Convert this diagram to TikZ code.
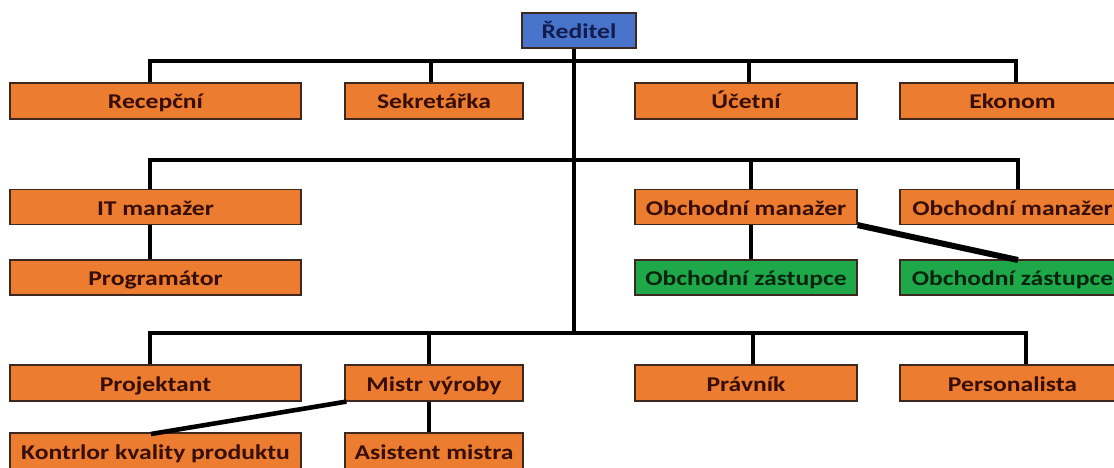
\documentclass[tikz,border=0pt]{standalone}
\usepackage{fontspec}
\setmainfont{Carlito}[FakeStretch=1.22]
\definecolor{boxorange}{RGB}{236,124,48}
\definecolor{boxgreen}{RGB}{30,168,74}
\definecolor{boxblue}{RGB}{72,116,204}
\definecolor{txtbrown}{RGB}{55,14,6}
\definecolor{txtgreen}{RGB}{8,36,14}
\definecolor{txtblue}{RGB}{20,28,76}
\definecolor{edge}{RGB}{60,40,30}
\tikzset{
  obox/.style={draw=edge, line width=1.2pt, fill=boxorange, text=txtbrown, inner sep=0pt,
    text height=20pt, text depth=4pt,
    font=\fontsize{21}{24}\selectfont\bfseries, anchor=center},
  gbox/.style={obox, fill=boxgreen, text=txtgreen},
  bbox/.style={obox, fill=boxblue, text=txtblue},
  conn/.style={line width=4.6pt, black},
}
\begin{document}
\begin{tikzpicture}[x=1pt,y=-1pt]
\useasboundingbox (0,0) rectangle (1114,468);
\clip (0,0) rectangle (1114,468);
% top
\node[bbox, minimum width=114pt, minimum height=35pt] (dir) at (579,30.5) {Ředitel};
% row 1
\node[obox, minimum width=291pt, minimum height=36pt] (rec) at (155.5,101) {Recepční};
\node[obox, minimum width=178pt, minimum height=36pt] (sek) at (434,101) {Sekretářka};
\node[obox, minimum width=222pt, minimum height=36pt] (uce) at (746,101) {Účetní};
\node[obox, minimum width=225pt, minimum height=36pt] (eko) at (1012.5,101) {Ekonom};
% row 2
\node[obox, minimum width=291pt, minimum height=35pt] (itm) at (155.5,207) {IT manažer};
\node[obox, minimum width=222pt, minimum height=35pt] (om1) at (746,207) {Obchodní manažer};
\node[obox, minimum width=225pt, minimum height=35pt] (om2) at (1012.5,207) {Obchodní manažer};
% row 2b
\node[obox, minimum width=291pt, minimum height=35pt] (prog) at (155.5,277.5) {Programátor};
\node[gbox, minimum width=222pt, minimum height=35pt] (oz1) at (746,277.5) {Obchodní zástupce};
\node[gbox, minimum width=225pt, minimum height=35pt] (oz2) at (1012.5,277.5) {Obchodní zástupce};
% row 3
\node[obox, minimum width=291pt, minimum height=36pt] (proj) at (155.5,383) {Projektant};
\node[obox, minimum width=178pt, minimum height=36pt] (mistr) at (434,383) {Mistr výroby};
\node[obox, minimum width=222pt, minimum height=36pt] (prav) at (746,383) {Právník};
\node[obox, minimum width=225pt, minimum height=36pt] (pers) at (1012.5,383) {Personalista};
% row 4
\node[obox, minimum width=291pt, minimum height=36pt] (kon) at (155.5,451) {Kontrlor kvality produktu};
\node[obox, minimum width=178pt, minimum height=36pt] (asis) at (434,451) {Asistent mistra};
% bus coordinates
\coordinate (t1) at (574,61);
\coordinate (t2) at (574,160);
\coordinate (t3) at (574,333);
\coordinate (a1) at (150,61);
\coordinate (a2) at (431,61);
\coordinate (a3) at (749,61);
\coordinate (a4) at (1016,61);
\coordinate (c1) at (150,160);
\coordinate (c2) at (751,160);
\coordinate (c3) at (1018,160);
\coordinate (e1) at (150,333);
\coordinate (e2) at (429,333);
\coordinate (e3) at (753,333);
\coordinate (e4) at (1026,333);
\coordinate (k1) at (1018,260);
\coordinate (k2) at (151,434);
% trunk
\draw[conn] (dir.south -| t1) -- (t3);
% row 1 bus
\draw[conn, line join=miter] (rec.north -| a1) -- (a1) -- (a4) -- (eko.north -| a4);
\draw[conn] (a2) -- (sek.north -| a2);
\draw[conn] (a3) -- (uce.north -| a3);
% row 2 bus
\draw[conn, line join=miter] (itm.north -| c1) -- (c1) -- (c3) -- (om2.north -| c3);
\draw[conn] (c2) -- (om1.north -| c2);
\draw[conn] (itm.south -| c1) -- (prog.north -| c1);
\draw[conn] (om1.south -| c2) -- (oz1.north -| c2);
\draw[conn, line width=6pt] (om1.south east) -- (k1);
% row 3 bus
\draw[conn, line join=miter] (proj.north -| e1) -- (e1) -- (e4) -- (pers.north -| e4);
\draw[conn] (e2) -- (mistr.north -| e2);
\draw[conn] (e3) -- (prav.north -| e3);
\draw[conn] (mistr.south -| e2) -- (asis.north -| e2);
\draw[conn] ([xshift=2pt]mistr.south west) -- (k2);
\end{tikzpicture}
\end{document}
